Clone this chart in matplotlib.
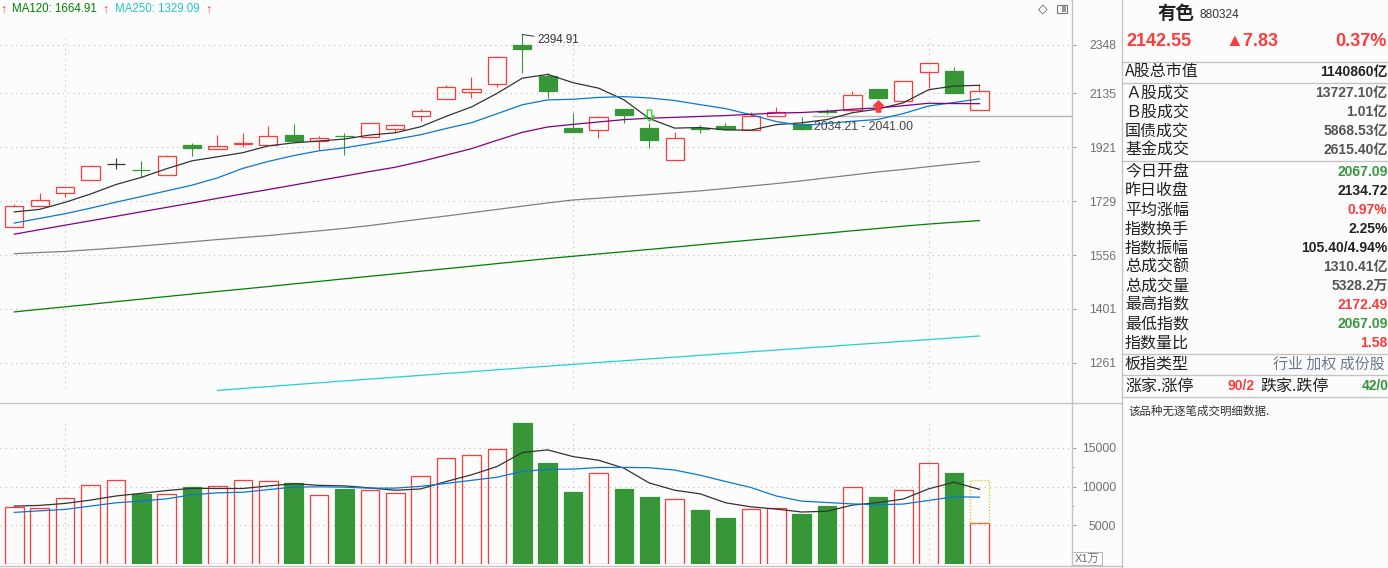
import numpy as np
import matplotlib
matplotlib.use("Agg")
import matplotlib.pyplot as plt
from matplotlib.path import Path
from matplotlib.patches import Rectangle
from matplotlib.ticker import FixedLocator, NullLocator

plt.rcParams['font.family'] = ['Liberation Sans', 'Noto Sans CJK SC', 'DejaVu Sans']
CJK = ['Noto Sans CJK SC', 'DejaVu Sans']

# ---- K线数据 (39 个交易日) ----
opens = [1644, 1712.5, 1758.5, 1801, 1860, 1838, 1819, 1929, 1914, 1935.5,
         1931, 1967, 1946, 1963.5, 1961.6, 1990, 2041, 2113, 2142, 2173,
         2346, 2208, 1995, 1986.5, 2071, 1995, 1873, 1995, 2003, 1986.5,
         2041, 2012, 2063, 2066.8, 2153, 2104, 2227.6, 2231, 2067.09]
highs = [1720, 1757.5, 1777, 1856, 1881, 1870.5, 1892, 1936, 1967, 1975,
         2002, 2011, 1964, 1975, 2014, 2011, 2071, 2170, 2203, 2291,
         2394.91, 2223, 2055, 2042.6, 2071, 2015, 1981, 2007, 2014, 2059,
         2077, 2037, 2071, 2144.7, 2153, 2185, 2264, 2248, 2172.49]
lows = [1643.7, 1712.5, 1744.8, 1801, 1843, 1813, 1819, 1890, 1914, 1924,
        1931, 1941, 1911.5, 1894, 1958, 1981, 2024, 2113, 2117, 2160,
        2223, 2117, 1981, 1957.7, 2015, 1920, 1873, 1977, 1988.6, 1986.5,
        2041, 1988.6, 2049.6, 2061.6, 2111.6, 2104, 2156, 2134.72, 2067.09]
closes = [1712, 1732, 1777, 1851.5, 1860, 1837, 1888, 1920, 1925, 1936.5,
          1963, 1946, 1955, 1962.5, 2013.7, 2006, 2063, 2160, 2152, 2291,
          2329, 2145, 1981, 2037.4, 2048, 1950, 1956.5, 1993, 1991.4, 2042.6,
          2058, 1992.6, 2057.6, 2127, 2117, 2185, 2264, 2134.72, 2142.55]

# 均线
ma5 = [1693.5, 1702, 1725.5, 1753.7, 1786.5, 1811.5, 1842.7, 1871.3, 1886, 1901.3,
       1926.5, 1938.1, 1945.1, 1952.6, 1968, 1976.6, 2000, 2041, 2078.9, 2134.4,
       2199, 2215.4, 2179.6, 2156.7, 2108.1, 2032.3, 1994.6, 1997, 1987.8, 1986.7,
       2008.3, 2015.5, 2028.4, 2055.6, 2070.4, 2095.8, 2150.1, 2165.5, 2168.6]
ma10 = [1657, 1672.2, 1687.6, 1706, 1726, 1745, 1764.6, 1784.4, 1810, 1843.9,
        1869, 1890.4, 1908.2, 1919.3, 1934.7, 1951.6, 1969.1, 1993.1, 2015.8, 2051.2,
        2087.8, 2107.7, 2110.3, 2117.8, 2121.2, 2115.6, 2105, 2088.3, 2072.2, 2047.4,
        2020.3, 2005.1, 2012.7, 2021.7, 2028.6, 2052.1, 2082.8, 2097, 2112.1]
ma20 = [1621.4, 1635.8, 1650.2, 1664.4, 1679, 1693.8, 1708.6, 1723.5, 1739, 1754.2,
        1769.1, 1784.8, 1800.5, 1816.4, 1832.6, 1848, 1868.7, 1892.2, 1916.3, 1947.6,
        1978.4, 1999.1, 2009.3, 2018.6, 2028, 2033.6, 2037, 2040.7, 2044, 2049.3,
        2054.1, 2056.4, 2061.5, 2069.7, 2074.9, 2083.9, 2093.9, 2092.6, 2092.2]
ma60 = [1560.8, 1564.4, 1567.7, 1572.9, 1578.3, 1584.5, 1590.9, 1597.7, 1604.5, 1610.8,
        1617, 1624.8, 1632, 1640, 1649, 1659.5, 1670, 1680, 1690.8, 1701.7,
        1712.6, 1723.6, 1733.4, 1739.5, 1745.6, 1751.7, 1758, 1764.5, 1772.8, 1781.5,
        1789.9, 1799.5, 1810, 1820.4, 1831, 1840, 1850, 1859.7, 1869]
ma120 = [1393, 1400.1, 1406.9, 1413.9, 1421.2, 1428.3, 1435.5, 1442.6, 1449.8, 1456.7,
         1463.8, 1471.4, 1478.6, 1486.1, 1493.4, 1500.6, 1508.3, 1515.7, 1523.1, 1530.9,
         1538.3, 1546, 1553, 1560, 1566.8, 1573.9, 1581, 1588.5, 1595.7, 1602.9,
         1610, 1617.3, 1624.8, 1632.3, 1639.6, 1647, 1653.8, 1659.6, 1664.91]
ma250 = [None] * 8 + [1195.0, 1199.6, 1203.9, 1208.5, 1212.8, 1217.4, 1221.7, 1226.3,
                      1230.6, 1235.2, 1239.5, 1244.1, 1248.6, 1253.0, 1257.4, 1262.0,
                      1266.3, 1270.9, 1275.2, 1279.8, 1284.1, 1288.7, 1293.0, 1297.6,
                      1301.9, 1306.5, 1310.8, 1315.4, 1319.7, 1324.3, 1329.09]

# 成交量 (万手)
volumes = [7325, 7196, 8488, 10168, 10814, 9044, 9005, 9948, 10039, 10814,
           10685, 10465, 8876, 9690, 9522, 9134, 11331, 13656, 14044, 14819,
           18217, 13049, 9302, 11718, 9690, 8656, 8359, 6977, 5943, 7067,
           7196, 6460, 7494, 9910, 8656, 9522, 13049, 11757, 5328.2]
vol_ma5 = [7494, 7584, 7842, 8269, 8798, 9142, 9504, 9796, 9770, 9770,
           10098, 10390, 10176, 10106, 9848, 9537, 9711, 10667, 11537, 12597,
           14413, 14757, 13886, 13421, 12395, 10483, 9545, 9080, 7925, 7400,
           7108, 6729, 6832, 7625, 7943, 8408, 9726, 10579, 9662]
vol_ma10 = [6680, 6886, 7067, 7494, 7920, 8140, 8437, 8953, 9212, 9284,
            9620, 9947, 9986, 9938, 9809, 9818, 10050, 10421, 10822, 11222,
            11975, 12234, 12276, 12479, 12496, 12448, 12151, 11483, 10673, 9898,
            8796, 8137, 7956, 7775, 7672, 7758, 8227, 8705, 8644]
est_volume = 10814          # 预估全天量

price_ticks = [1261, 1401, 1556, 1729, 1921, 2135, 2348]
vol_ticks = [5000, 10000, 15000]
vol_minor = [7500, 12500]
month_starts = [2, 22, 36]
peak_idx = 20
range_start, range_low, range_high = 31.4, 2034.21, 2041.00
buy_idx, buy_price = 34, 2081
sell_idx, sell_price = 25, 2045

name, code = '有色', '880324'
prev_close = closes[-2]
info_groups = [
    [('A股总市值', '1140860亿', 'k')],
    [('Ａ股成交', '13727.10亿', 'g'), ('Ｂ股成交', '1.01亿', 'g'),
     ('国债成交', '5868.53亿', 'g'), ('基金成交', '2615.40亿', 'g')],
    [('今日开盘', f'{opens[-1]:.2f}', 'G'), ('昨日收盘', f'{prev_close:.2f}', 'k'),
     ('平均涨幅', '0.97%', 'r'), ('指数换手', '2.25%', 'k'),
     ('指数振幅', f'{highs[-1] - lows[-1]:.2f}/{(highs[-1] - lows[-1]) / prev_close * 100:.2f}%', 'k'),
     ('总成交额', '1310.41亿', 'g'), ('总成交量', f'{volumes[-1]:.1f}万', 'g'),
     ('最高指数', f'{highs[-1]:.2f}', 'r'), ('最低指数', f'{lows[-1]:.2f}', 'G'),
     ('指数量比', '1.58', 'r')],
    [('板指类型', '', 'k')],
    [('涨家.涨停', '', 'k')],
]

# ---- 样式 ----
W, H = 1388, 568
BG = '#fcfcfc'
RED = '#ff3a3a'
GRN = '#379637'
GRID = '#b8b8b8'
LINE = '#c4c4c4'
AXR = 1071.7
DOT = (0, (1, 4))
val_colors = {'k': '#222222', 'g': '#555555', 'r': RED, 'G': GRN}

fig = plt.figure(figsize=(W / 100, H / 100), dpi=100, facecolor=BG)


def box(x0, y0, x1, y1):
    return [x0 / W, 1 - y1 / H, (x1 - x0) / W, (y1 - y0) / H]


ax = fig.add_axes(box(0, 0, AXR, 403.3))
axv = fig.add_axes(box(0, 403.3, AXR, 564.1))
n = len(closes)
x = np.arange(n)
for a in (ax, axv):
    a.set_facecolor(BG)
    for s in a.spines.values():
        s.set_visible(False)
    a.set_xlim(-0.563, 41.63)
    a.set_xticks([])

# 价格坐标 (对数)
ax.set_yscale('log')
ax.set_ylim(1165.3, 2561.8)
ax.yaxis.set_major_locator(FixedLocator(price_ticks))
ax.yaxis.set_minor_locator(NullLocator())
ax.set_yticklabels([str(t) for t in price_ticks])
ax.yaxis.tick_right()
ax.tick_params(axis='y', which='both', length=3.2, width=0.7, color='#a0a0a0',
               labelsize=8.8, labelcolor='#707070', pad=28.7)
for t in ax.yaxis.get_majorticklabels():
    t.set_horizontalalignment('right')
for t in price_ticks:
    ax.axhline(t, color=GRID, lw=0.75, ls=DOT, zorder=0)
for m in month_starts:
    ax.axvline(m, ymin=0.038, ymax=0.913, color=GRID, lw=0.75, ls=DOT, zorder=0)

# K线
bw = 0.71
for i in range(n):
    o, h, l, c = opens[i], highs[i], lows[i], closes[i]
    col = RED if c > o else (GRN if c < o else '#333333')
    top, bot = max(o, c), min(o, c)
    ax.vlines(i, top, h, color=col, lw=0.8, zorder=2)
    ax.vlines(i, l, bot, color=col, lw=0.8, zorder=2)
    if c > o:
        ax.bar(i, top - bot, bottom=bot, width=bw, facecolor='none',
               edgecolor=col, lw=0.9, zorder=2)
    elif c < o:
        ax.bar(i, top - bot, bottom=bot, width=bw, facecolor=col,
               edgecolor=col, lw=0.9, zorder=2)
    else:
        ax.hlines(c, i - bw / 2, i + bw / 2, color=col, lw=0.9, zorder=2)

ma_styles = [(ma5, '#333333'), (ma10, '#0a78d2'), (ma20, '#800080'),
             (ma60, '#808080'), (ma120, '#008000'), (ma250, '#22d2d2')]
for vals, col in ma_styles:
    ax.plot(x, np.array(vals, dtype=float), color=col, lw=0.9, zorder=3)

# 最高点标注
ax.annotate(f'{highs[peak_idx]:.2f}', xy=(peak_idx, highs[peak_idx]),
            xytext=(10.5, -3.8), textcoords='offset points', ha='left', va='center',
            fontsize=8.4, color='#333333', zorder=5,
            arrowprops=dict(arrowstyle='-', lw=0.7, color='#333333',
                            shrinkA=0, shrinkB=0))

# 区间线
ax.hlines(range_high, range_start, 41.63, color='#b4b4b4', lw=1.0, zorder=1)
ax.annotate(f'{range_low:.2f} - {range_high:.2f}', xy=(range_start, range_high),
            xytext=(1.5, -7.6), textcoords='offset points', ha='left', va='center',
            fontsize=8.8, color='#444444', zorder=5)

# 买卖信号箭头
up_arrow = Path([(0, 1), (0.9, 0.1), (0.4, 0.1), (0.4, -1), (-0.4, -1),
                 (-0.4, 0.1), (-0.9, 0.1), (0, 1)], closed=True)
down_arrow = Path([(0, -1), (0.9, -0.1), (0.4, -0.1), (0.4, 1), (-0.4, 1),
                   (-0.4, -0.1), (-0.9, -0.1), (0, -1)], closed=True)
ax.plot(buy_idx, buy_price, marker=up_arrow, ms=8, color=RED, mec=RED, zorder=6)
ax.plot(sell_idx, sell_price, marker=down_arrow, ms=8, mfc='none',
        mec='#22dd22', mew=0.9, zorder=6)

# 成交量
axv.set_ylim(0, 20775)
axv.yaxis.set_major_locator(FixedLocator(vol_ticks))
axv.yaxis.set_minor_locator(FixedLocator(vol_minor))
axv.set_yticklabels([str(t) for t in vol_ticks])
axv.yaxis.tick_right()
axv.tick_params(axis='y', which='major', length=3.1, width=0.7, color='#a0a0a0',
                labelsize=8.8, labelcolor='#707070', pad=28.8)
axv.tick_params(axis='y', which='minor', length=1.7, width=0.7, color='#a0a0a0')
for t in axv.yaxis.get_majorticklabels():
    t.set_horizontalalignment('right')
for t in vol_ticks:
    axv.axhline(t, color=GRID, lw=0.75, ls=DOT, zorder=0)
for m in month_starts:
    axv.axvline(m, ymin=0.0255, ymax=0.884, color=GRID, lw=0.75, ls=DOT, zorder=0)

vb = 0.73
for i in range(n):
    if closes[i] >= opens[i]:
        axv.bar(i, volumes[i], width=vb, facecolor='none', edgecolor=RED, lw=0.9, zorder=2)
    else:
        axv.bar(i, volumes[i], width=vb, facecolor=GRN, edgecolor=GRN, lw=0.9, zorder=2)
axv.bar(n - 1, est_volume - volumes[-1], bottom=volumes[-1], width=vb,
        facecolor='none', edgecolor='#c8c800', lw=0.9, ls=(0, (1, 1.5)), zorder=2)
axv.plot(x, vol_ma5, color='#333333', lw=0.9, zorder=3)
axv.plot(x, vol_ma10, color='#0a78d2', lw=0.9, zorder=3)

# ---- 覆盖层: 边框、图例、右侧信息栏 ----
over = fig.add_axes([0, 0, 1, 1])
over.set_xlim(0, W)
over.set_ylim(H, 0)
over.axis('off')
over.patch.set_alpha(0)

over.plot([AXR, AXR], [0, 565.5], color=LINE, lw=1)
over.plot([1122.3, 1122.3], [0, H], color=LINE, lw=1)
over.plot([0, 1122.3], [403.3, 403.3], color=LINE, lw=1)
over.plot([0, 1122.3], [565.5, 565.5], color=LINE, lw=1)

# 图例
over.text(0.5, 9, '↑', color=RED, fontsize=9, va='center', ha='left')
over.text(12, 9, f'MA120: {ma120[-1]:.2f}', color='#008000', fontsize=8.3, va='center')
over.text(102, 9, '↑', color=RED, fontsize=9, va='center', ha='left')
over.text(115, 9, f'MA250: {ma250[-1]:.2f}', color='#22c8c8', fontsize=8.3, va='center')
over.text(205, 9, '↑', color=RED, fontsize=9, va='center', ha='left')
over.text(1043, 9, '◇', color='#555555', fontsize=9, va='center', ha='center',
          family=['DejaVu Sans'])
over.add_patch(Rectangle((1057, 4.5), 10, 8.5, fill=False, ec='#777777', lw=0.8))
over.add_patch(Rectangle((1062.5, 5.5), 3.5, 6.5, fc='#999999', ec='none'))

# X1万
over.add_patch(Rectangle((1072.5, 551.5), 30, 13.5, fill=False, ec='#b8b8b8', lw=0.8))
over.text(1087.5, 558.5, 'X1万', color='#707070', fontsize=8, ha='center', va='center')

# 右侧信息栏
over.text(1176.5, 13, name, fontsize=13.3, family=CJK, color='#222222',
          ha='center', va='center', weight='bold')
over.text(1200, 14.5, code, fontsize=8.6, color='#333333', va='center')
chg = closes[-1] - prev_close
over.text(1126, 41.5, f'{closes[-1]:.2f}', fontsize=13, color=RED, weight='bold', va='center')
over.text(1225, 41.5, f'▲{chg:.2f}', fontsize=13, color=RED, weight='bold', va='center',
          family=['Liberation Sans', 'DejaVu Sans'])
over.text(1387, 41.5, f'{chg / prev_close * 100:.2f}%', fontsize=13, color=RED,
          weight='bold', va='center', ha='right')
over.plot([1122.3, W], [61.7, 61.7], color=LINE, lw=1)

y = 71.7
step, gap = 19.0, 2.6
for gi, group in enumerate(info_groups):
    for label, value, ck in group:
        over.text(1125, y, label, fontsize=11.5, family=CJK, color='#222222', va='center')
        if value:
            over.text(1387.5, y, value, fontsize=10, weight='bold', color=val_colors[ck],
                      ha='right', va='center')
        last_y = y
        y += step
    sep = last_y + (step + gap) / 2
    over.plot([1122.3, W], [sep, sep], color=LINE, lw=1)
    y += gap

# 板指类型 / 涨跌家数行
y_type = 71.7 + 15 * step + 3 * gap
y_cnt = y_type + step + gap
over.text(1385, y_type, '行业 加权 成份股', fontsize=10.8, family=CJK, color='#6a7a8c',
          va='center', ha='right')
over.text(1228, y_cnt, '90/2', fontsize=10, weight='bold', color=RED, va='center')
over.text(1260, y_cnt, '跌家.跌停', fontsize=11.5, family=CJK, color='#222222', va='center')
over.text(1362, y_cnt, '42/0', fontsize=10, weight='bold', color=GRN, va='center')
over.text(1128, 411.7, '该品种无逐笔成交明细数据.', fontsize=8.3, family=CJK,
          color='#333333', va='center')

fig.savefig('out.png', dpi=100, facecolor=BG)
